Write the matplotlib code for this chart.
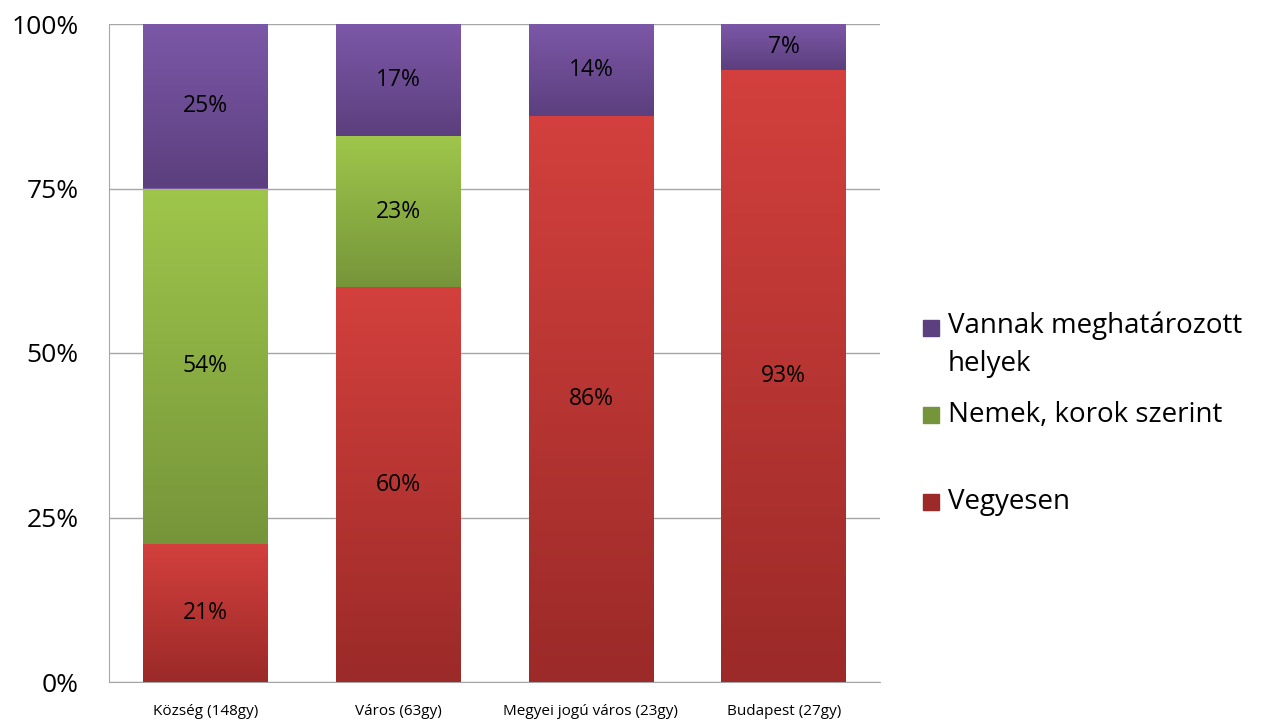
import matplotlib
matplotlib.use('Agg')
import matplotlib.pyplot as plt
import numpy as np
from matplotlib.colors import LinearSegmentedColormap
from matplotlib.patches import Rectangle

categories = ['Község (148gy)', 'Város (63gy)', 'Megyei jogú város (23gy)', 'Budapest (27gy)']
series = ['Vegyesen', 'Nemek, korok szerint', 'Vannak meghatározott\nhelyek']
vegyesen = [21, 60, 86, 93]
nemek = [54, 23, 0, 0]
helyek = [25, 17, 14, 7]
values = [vegyesen, nemek, helyek]

# gradient colours (top, bottom) for each series
grads = [('#d3403d', '#9b2a28'), ('#9fc64b', '#76953a'), ('#7c58a8', '#5c3f7e')]

plt.rcParams['font.family'] = ['Open Sans', 'DejaVu Sans']

fig = plt.figure(figsize=(12.61, 7.22), dpi=100)
ax = fig.add_axes([109 / 1261, 1 - 682 / 722, 771 / 1261, 658 / 722])

x = np.arange(len(categories))
width = 0.645
bottom = np.zeros(len(categories))
grad = np.linspace(1, 0, 256).reshape(-1, 1)
for vals, (ctop, cbot) in zip(values, grads):
    cmap = LinearSegmentedColormap.from_list('g', [cbot, ctop])
    bars = ax.bar(x, vals, width, bottom=bottom, color=ctop, zorder=2, linewidth=0)
    for b, v in zip(bars, vals):
        if v == 0:
            continue
        x0, y0 = b.get_x(), b.get_y()
        w, h = b.get_width(), b.get_height()
        im = ax.imshow(grad, extent=[x0, x0 + w, y0, y0 + h], aspect='auto',
                       cmap=cmap, vmin=0, vmax=1, zorder=3, interpolation='bicubic')
        im.set_clip_path(b)
        ax.text(x0 + w / 2, y0 + h / 2, f'{v}%', ha='center', va='center',
                fontsize=16.5, color='black', zorder=4)
    bottom += np.array(vals)

ax.set_xlim(-0.5, len(categories) - 0.5)
ax.set_ylim(0, 100)
ax.set_yticks([0, 25, 50, 75, 100])
ax.set_yticklabels(['0%', '25%', '50%', '75%', '100%'], fontsize=19)
ax.set_xticks(x)
ax.set_xticklabels(categories, fontsize=11)
ax.tick_params(axis='both', length=0)
ax.tick_params(axis='y', pad=22)
ax.tick_params(axis='x', pad=16)
ax.yaxis.grid(True, color='#a6a6a6', linewidth=1, zorder=0)
for s in ['top', 'right']:
    ax.spines[s].set_visible(False)
for s in ['left', 'bottom']:
    ax.spines[s].set_color('#a6a6a6')

# legend drawn by hand to match the uneven spacing
leg = [(helyek, 328, 'Vannak meghatározott\nhelyek', grads[2]),
       (nemek, 415, 'Nemek, korok szerint', grads[1]),
       (vegyesen, 502, 'Vegyesen', grads[0])]
for _, ypx, label, (ctop, cbot) in leg:
    yf = 1 - ypx / 722
    fig.patches.append(Rectangle((923 / 1261, yf - 8 / 722), 16 / 1261, 16 / 722,
                                 transform=fig.transFigure, color=cbot))
    two = '\n' in label
    fig.text(948 / 1261, yf + (16 / 722 if two else 0), label, fontsize=20,
             va='top' if two else 'center', linespacing=1.45)

fig.savefig('out.png', dpi=100)
